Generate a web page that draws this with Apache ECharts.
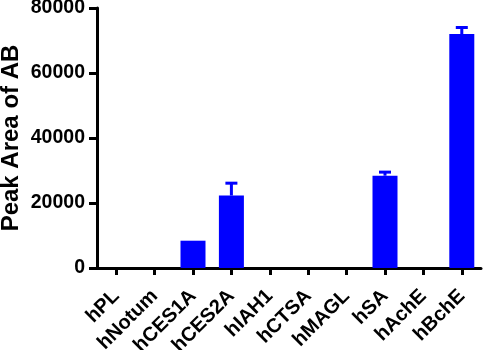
<!DOCTYPE html>
<html><head><meta charset="utf-8">
<script src="https://cdn.jsdelivr.net/npm/echarts@6/dist/echarts.min.js"></script>
<style>html,body{margin:0;padding:0;background:#fff}#c{width:484px;height:350px}</style>
</head><body><div id="c"></div>
<script>
var categories = ['hPL','hNotum','hCES1A','hCES2A','hIAH1','hCTSA','hMAGL','hSA','hAchE','hBchE'];
var values = [0, 0, 8400, 22300, 0, 0, 0, 28400, 0, 72000];
var errors = [0, 0, 0, 3800, 0, 0, 0, 1100, 0, 2000];
var yTicks = [0, 20000, 40000, 60000, 80000];

var chart = echarts.init(document.getElementById('c'));
var font = 'Liberation Sans, Arial, sans-serif';
chart.setOption({
  animation: false,
  grid: {left: 97, right: 3, top: 8, bottom: 82, containLabel: false, outerBoundsMode: 'none'},
  xAxis: {
    type: 'category', data: categories,
    axisLine: {lineStyle: {color: '#000', width: 3}},
    axisTick: {show: true, alignWithLabel: true, length: 7, lineStyle: {color: '#000', width: 3}},
    axisLabel: {rotate: 45, interval: 0, color: '#000', fontWeight: 'bold', fontSize: 20, fontFamily: font, margin: 25}
  },
  yAxis: {
    type: 'value', min: yTicks[0], max: yTicks[yTicks.length-1], interval: 20000,
    name: 'Peak Area of AB', nameLocation: 'middle', nameGap: 74, nameMoveOverlap: false,
    nameTextStyle: {color: '#000', fontWeight: 'bold', fontSize: 24, fontFamily: font},
    splitLine: {show: false},
    axisLine: {show: true, lineStyle: {color: '#000', width: 3}},
    axisTick: {show: true, length: 8, lineStyle: {color: '#000', width: 3}},
    axisLabel: {color: '#000', fontWeight: 'bold', fontSize: 19.5, fontFamily: font, margin: 12,
      formatter: function(v){ return String(v); }}
  },
  series: [
    {
      type: 'custom',
      z: 1,
      data: values.map(function(v, i){ return [i, v, v + errors[i]]; }),
      renderItem: function(params, api){
        var i = api.value(0), v = api.value(1), hi = api.value(2);
        if (hi <= v) return;
        var p0 = api.coord([i, v]);
        var p1 = api.coord([i, hi]);
        var style = {stroke: '#0000ff', lineWidth: 3};
        return {type: 'group', children: [
          {type: 'line', shape: {x1: p0[0], y1: p0[1], x2: p1[0], y2: p1[1]}, style: style},
          {type: 'line', shape: {x1: p1[0]-6, y1: p1[1], x2: p1[0]+6, y2: p1[1]}, style: style}
        ]};
      }
    },
    {
      type: 'bar', data: values, barWidth: 25, z: 2,
      itemStyle: {color: '#0000ff', borderWidth: 0}
    }
  ]
});
</script></body></html>
